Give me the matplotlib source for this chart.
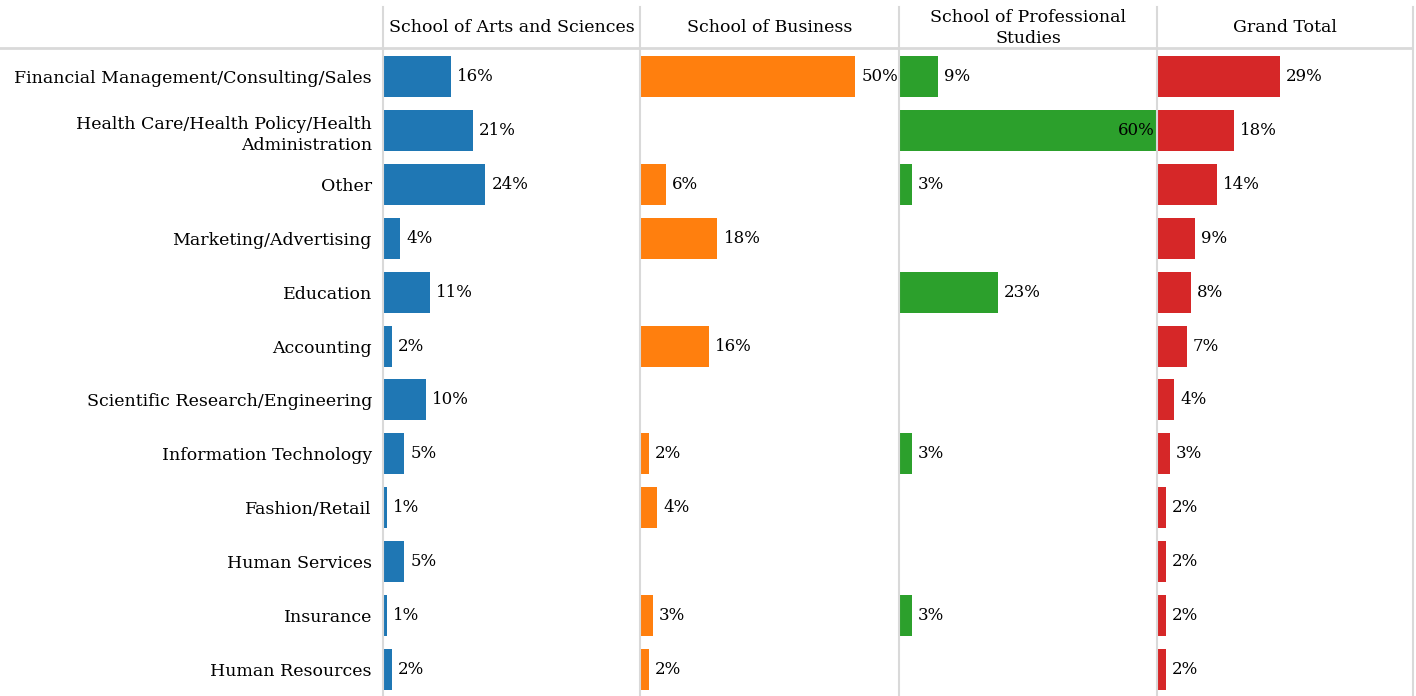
import matplotlib.pyplot as plt
import numpy as np
from matplotlib.lines import Line2D

categories = [
    "Financial Management/Consulting/Sales",
    "Health Care/Health Policy/Health\nAdministration",
    "Other",
    "Marketing/Advertising",
    "Education",
    "Accounting",
    "Scientific Research/Engineering",
    "Information Technology",
    "Fashion/Retail",
    "Human Services",
    "Insurance",
    "Human Resources",
]
schools = ["School of Arts and Sciences", "School of Business",
           "School of Professional\nStudies", "Grand Total"]
arts = [16, 21, 24, 4, 11, 2, 10, 5, 1, 5, 1, 2]
business = [50, None, 6, 18, None, 16, None, 2, 4, None, 3, 2]
professional = [9, 60, 3, None, 23, None, None, 3, None, None, 3, None]
grand_total = [29, 18, 14, 9, 8, 7, 4, 3, 2, 2, 2, 2]
colors = ["#1f77b4", "#ff7f0e", "#2ca02c", "#d62728"]

plt.rcParams['font.family'] = ['DejaVu Serif']
W, H = 1416, 696
fig = plt.figure(figsize=(W / 100, H / 100), dpi=100)

edges = [383, 640, 899, 1157, 1413]
top, bottom = 50, 696
grid = "#d9d9d9"

series = [arts, business, professional, grand_total]
y = np.arange(len(categories))
for i, vals in enumerate(series):
    x0, x1 = edges[i], edges[i + 1]
    ax = fig.add_axes([x0 / W, 1 - bottom / H, (x1 - x0) / W, (bottom - top) / H])
    v = np.array([np.nan if a is None else a for a in vals], dtype=float)
    ax.barh(y, np.nan_to_num(v), height=0.76, color=colors[i])
    ax.set_xlim(0, 60.2)
    ax.set_ylim(len(categories) - 0.5, -0.5)
    for s in ax.spines.values():
        s.set_visible(False)
    ax.set_xticks([])
    if i == 0:
        ax.set_yticks(y)
        ax.set_yticklabels(categories, fontsize=12.5, linespacing=1.35)
        ax.tick_params(axis='y', length=0, pad=8)
    else:
        ax.set_yticks([])
    for yy, val in zip(y, v):
        if np.isnan(val):
            continue
        if val > 55:
            ax.text(val - 0.3, yy, f"{val:.0f}%", va='center', ha='right', fontsize=12)
        else:
            ax.text(val + 1.4, yy, f"{val:.0f}%", va='center', ha='left', fontsize=12)
    fig.text((x0 + x1) / 2 / W, 1 - 28 / H, schools[i], ha='center', va='center',
             fontsize=12.5, linespacing=1.35)

# grid lines
fig.add_artist(Line2D([0, 1412 / W], [1 - 48 / H] * 2, color=grid, lw=2))
for e in edges:
    fig.add_artist(Line2D([e / W] * 2, [0, 1 - 7 / H], color=grid, lw=1.5))

plt.savefig('out.png', dpi=100)
